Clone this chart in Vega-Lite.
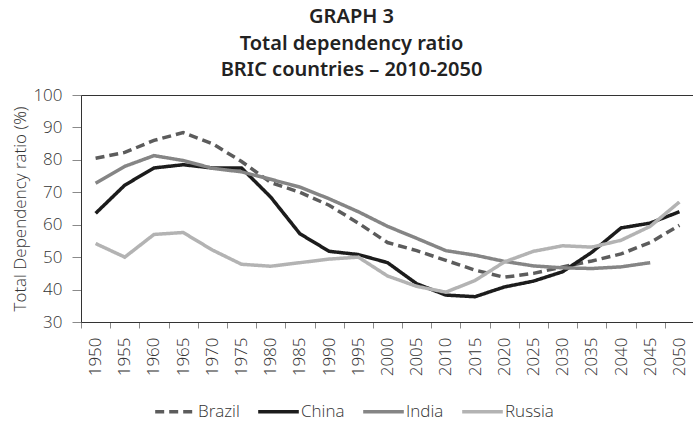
{
  "$schema": "https://vega.github.io/schema/vega-lite/v6.json",
  "width": 613,
  "height": 227,
  "autosize": {"type": "none"},
  "padding": {"left": 81, "top": 95, "right": 0, "bottom": 99},
  "background": "white",
  "title": {
    "text": ["GRAPH 3", "Total dependency ratio", "BRIC countries – 2010-2050"],
    "font": "Noto Sans",
    "fontSize": 20,
    "fontWeight": 600,
    "color": "#222222",
    "lineHeight": 26.5,
    "anchor": "middle",
    "dx": -36,
    "offset": 6
  },
  "config": {
    "view": {"stroke": "#333333", "strokeWidth": 1},
    "axis": {
      "labelFont": "Open Sans",
      "labelFontWeight": 300,
      "labelFontSize": 17,
      "labelColor": "#333333",
      "titleFont": "Open Sans",
      "titleFontWeight": 300,
      "titleFontSize": 17,
      "titleColor": "#333333",
      "domainColor": "#333333",
      "tickColor": "#8a8a8a",
      "grid": false
    },
    "legend": {
      "orient": "none",
      "legendX": 72,
      "legendY": 294,
      "direction": "horizontal",
      "title": null,
      "symbolType": "stroke",
      "symbolSize": 1650,
      "symbolStrokeWidth": 3.5,
      "labelFont": "Open Sans",
      "labelFontWeight": 300,
      "labelFontSize": 17,
      "labelColor": "#333333",
      "labelOffset": 0,
      "columnPadding": 11
    }
  },
  "data": {
    "values": [
      {"year": "1950", "country": "Brazil", "ratio": 80.5},
      {"year": "1955", "country": "Brazil", "ratio": 82.3},
      {"year": "1960", "country": "Brazil", "ratio": 86.0},
      {"year": "1965", "country": "Brazil", "ratio": 88.4},
      {"year": "1970", "country": "Brazil", "ratio": 85.0},
      {"year": "1975", "country": "Brazil", "ratio": 79.5},
      {"year": "1980", "country": "Brazil", "ratio": 73.0},
      {"year": "1985", "country": "Brazil", "ratio": 70.0},
      {"year": "1990", "country": "Brazil", "ratio": 66.0},
      {"year": "1995", "country": "Brazil", "ratio": 60.5},
      {"year": "2000", "country": "Brazil", "ratio": 54.5},
      {"year": "2005", "country": "Brazil", "ratio": 52.0},
      {"year": "2010", "country": "Brazil", "ratio": 49.0},
      {"year": "2015", "country": "Brazil", "ratio": 46.0},
      {"year": "2020", "country": "Brazil", "ratio": 43.8},
      {"year": "2025", "country": "Brazil", "ratio": 45.0},
      {"year": "2030", "country": "Brazil", "ratio": 47.0},
      {"year": "2035", "country": "Brazil", "ratio": 48.8},
      {"year": "2040", "country": "Brazil", "ratio": 51.0},
      {"year": "2045", "country": "Brazil", "ratio": 54.5},
      {"year": "2050", "country": "Brazil", "ratio": 59.8},
      {"year": "1950", "country": "China", "ratio": 63.5},
      {"year": "1955", "country": "China", "ratio": 72.2},
      {"year": "1960", "country": "China", "ratio": 77.5},
      {"year": "1965", "country": "China", "ratio": 78.5},
      {"year": "1970", "country": "China", "ratio": 77.5},
      {"year": "1975", "country": "China", "ratio": 77.5},
      {"year": "1980", "country": "China", "ratio": 68.5},
      {"year": "1985", "country": "China", "ratio": 57.2},
      {"year": "1990", "country": "China", "ratio": 51.8},
      {"year": "1995", "country": "China", "ratio": 50.8},
      {"year": "2000", "country": "China", "ratio": 48.3},
      {"year": "2005", "country": "China", "ratio": 41.8},
      {"year": "2010", "country": "China", "ratio": 38.3},
      {"year": "2015", "country": "China", "ratio": 37.8},
      {"year": "2020", "country": "China", "ratio": 40.8},
      {"year": "2025", "country": "China", "ratio": 42.6},
      {"year": "2030", "country": "China", "ratio": 45.5},
      {"year": "2035", "country": "China", "ratio": 51.5},
      {"year": "2040", "country": "China", "ratio": 59.0},
      {"year": "2045", "country": "China", "ratio": 60.5},
      {"year": "2050", "country": "China", "ratio": 64.0},
      {"year": "1950", "country": "India", "ratio": 72.8},
      {"year": "1955", "country": "India", "ratio": 78.0},
      {"year": "1960", "country": "India", "ratio": 81.3},
      {"year": "1965", "country": "India", "ratio": 79.8},
      {"year": "1970", "country": "India", "ratio": 77.4},
      {"year": "1975", "country": "India", "ratio": 76.3},
      {"year": "1980", "country": "India", "ratio": 74.0},
      {"year": "1985", "country": "India", "ratio": 71.6},
      {"year": "1990", "country": "India", "ratio": 68.0},
      {"year": "1995", "country": "India", "ratio": 64.0},
      {"year": "2000", "country": "India", "ratio": 59.5},
      {"year": "2005", "country": "India", "ratio": 55.8},
      {"year": "2010", "country": "India", "ratio": 52.0},
      {"year": "2015", "country": "India", "ratio": 50.6},
      {"year": "2020", "country": "India", "ratio": 48.7},
      {"year": "2025", "country": "India", "ratio": 47.3},
      {"year": "2030", "country": "India", "ratio": 46.7},
      {"year": "2035", "country": "India", "ratio": 46.5},
      {"year": "2040", "country": "India", "ratio": 47.0},
      {"year": "2045", "country": "India", "ratio": 48.3},
      {"year": "1950", "country": "Russia", "ratio": 54.2},
      {"year": "1955", "country": "Russia", "ratio": 50.0},
      {"year": "1960", "country": "Russia", "ratio": 57.0},
      {"year": "1965", "country": "Russia", "ratio": 57.6},
      {"year": "1970", "country": "Russia", "ratio": 52.2},
      {"year": "1975", "country": "Russia", "ratio": 47.8},
      {"year": "1980", "country": "Russia", "ratio": 47.2},
      {"year": "1985", "country": "Russia", "ratio": 48.3},
      {"year": "1990", "country": "Russia", "ratio": 49.4},
      {"year": "1995", "country": "Russia", "ratio": 50.0},
      {"year": "2000", "country": "Russia", "ratio": 44.2},
      {"year": "2005", "country": "Russia", "ratio": 41.0},
      {"year": "2010", "country": "Russia", "ratio": 39.2},
      {"year": "2015", "country": "Russia", "ratio": 42.8},
      {"year": "2020", "country": "Russia", "ratio": 48.5},
      {"year": "2025", "country": "Russia", "ratio": 51.8},
      {"year": "2030", "country": "Russia", "ratio": 53.5},
      {"year": "2035", "country": "Russia", "ratio": 53.1},
      {"year": "2040", "country": "Russia", "ratio": 55.2},
      {"year": "2045", "country": "Russia", "ratio": 59.5},
      {"year": "2050", "country": "Russia", "ratio": 67.0}
    ]
  },
  "mark": {"type": "line", "strokeWidth": 3.5, "strokeCap": "butt", "strokeJoin": "miter"},
  "encoding": {
    "x": {
      "field": "year",
      "type": "ordinal",
      "bandPosition": 0.5,
      "scale": {"type": "band", "paddingInner": 0, "paddingOuter": 0},
      "axis": {
        "title": null,
        "labelAngle": -90,
        "tickBand": "extent",
        "tickSize": 6,
        "labelPadding": 9
      }
    },
    "y": {
      "field": "ratio",
      "type": "quantitative",
      "scale": {"domain": [30, 100], "nice": false, "zero": false},
      "axis": {
        "title": "Total Dependency ratio (%)",
        "values": [30, 40, 50, 60, 70, 80, 90, 100],
        "tickSize": 9,
        "labelPadding": 10,
        "titlePadding": 3
      }
    },
    "color": {
      "field": "country",
      "type": "nominal",
      "scale": {
        "domain": ["Brazil", "China", "India", "Russia"],
        "range": ["#5c5c5c", "#1c1c1c", "#858585", "#b3b3b3"]
      }
    },
    "strokeDash": {
      "field": "country",
      "type": "nominal",
      "scale": {
        "domain": ["Brazil", "China", "India", "Russia"],
        "range": [[9, 5], [1, 0], [1, 0], [1, 0]]
      }
    }
  }
}
